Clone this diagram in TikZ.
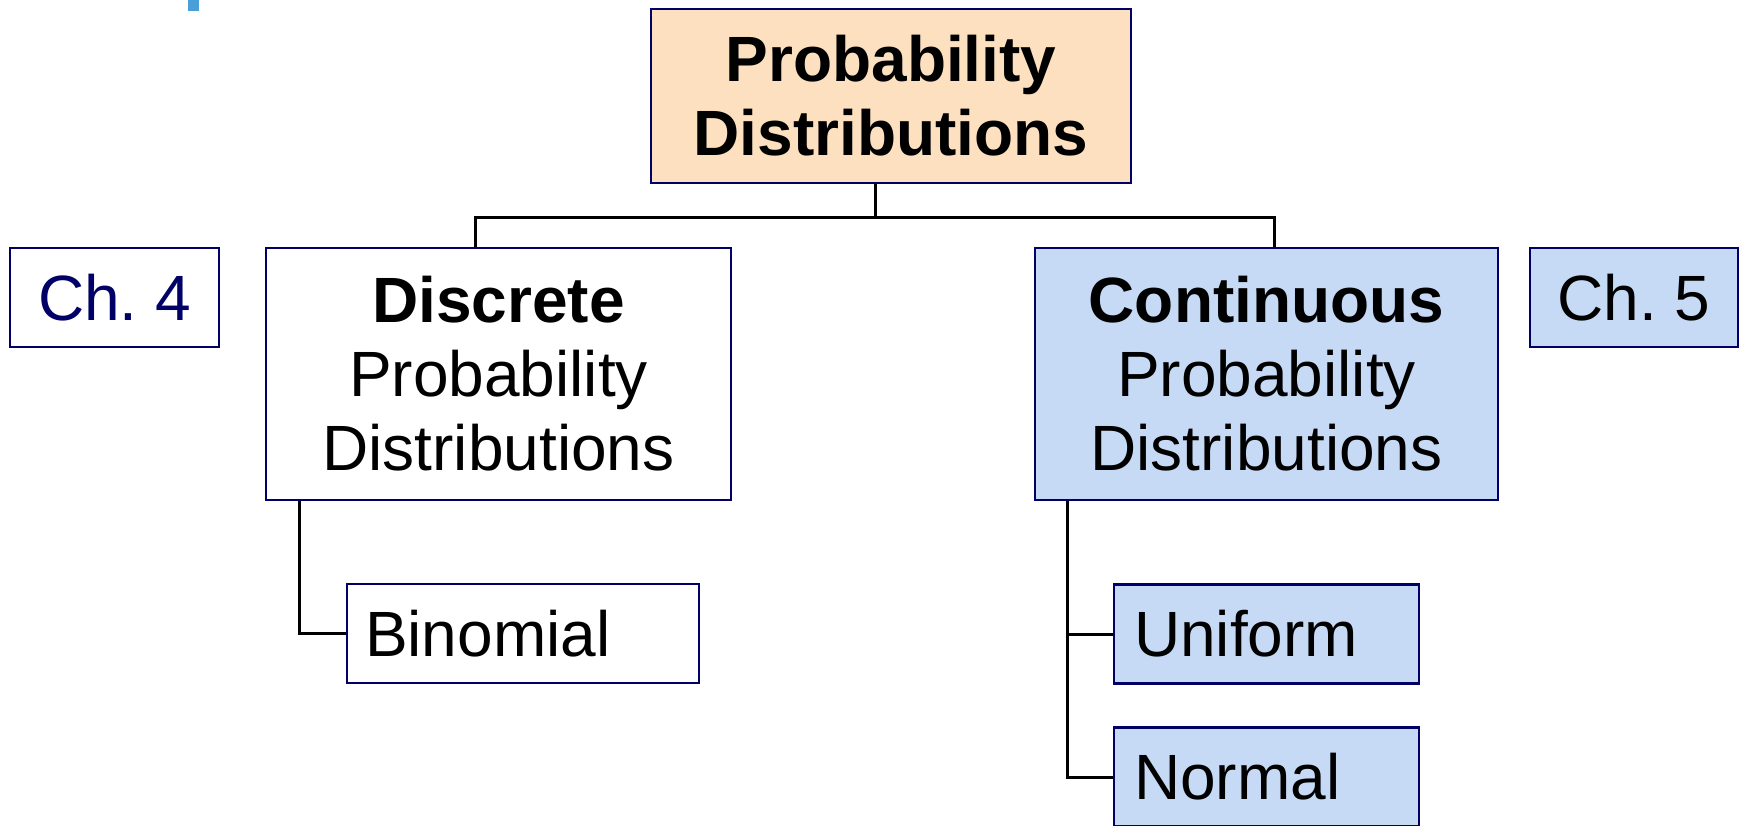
\documentclass[tikz,border=0pt]{standalone}
\usepackage{fontspec}
\setmainfont{Liberation Sans}
\usepackage{xcolor}
\usetikzlibrary{positioning}
\definecolor{boxline}{HTML}{000066}
\definecolor{peach}{HTML}{FCE0C0}
\definecolor{paleblue}{HTML}{C6DAF5}
\definecolor{marker}{HTML}{4A9FD8}

\begin{document}
\begin{tikzpicture}[x=0.5pt, y=-0.5pt,
    box/.style={draw=boxline, line width=1.25pt, inner sep=0pt, align=center,
        font=\fontsize{32}{37}\selectfont},
    leaf/.style={box, align=left, minimum height=49.5pt},
    link/.style={line width=1.5pt, black}]
    \useasboundingbox (0,0) rectangle (1739,825);
    \clip (0,0) rectangle (1739,825);

    % small mark at the top edge
    \fill[marker] (188,0) rectangle (199,11);

    \node[box, fill=peach, minimum width=240pt, minimum height=87pt] (top) at (891,96)
        {\textbf{Probability}\\\textbf{Distributions}};

    \node[box, minimum width=104.5pt, minimum height=49.5pt, text=boxline] (ch4) at (114.5,297.5) {Ch.\ 4};
    \node[box, minimum width=232.5pt, minimum height=126pt] (disc) at (498.5,374)
        {\textbf{Discrete}\\Probability\\Distributions};
    \node[box, fill=paleblue, minimum width=231.5pt, minimum height=126pt] (cont) at (1266.5,374)
        {\textbf{Continuous}\\Probability\\Distributions};
    \node[box, fill=paleblue, minimum width=104pt, minimum height=49.5pt] (ch5) at (1634,297.5) {Ch.\ 5};

    \node[leaf, inner xsep=9pt, text width=158pt] (binom) at (523,633.5) {Binomial};
    \node[leaf, fill=paleblue, inner xsep=10pt, text width=132.5pt] (unif) at (1266.5,634) {Uniform};
    \node[leaf, fill=paleblue, inner xsep=10pt, text width=132.5pt] (norm) at (1266.5,777) {Normal};

    \coordinate (hub) at (875,217);
    \coordinate (lbar) at (475,217);
    \coordinate (rbar) at (1274,217);
    \coordinate (ltrunk) at (299,500);
    \coordinate (rtrunk) at (1067,500);

    \draw[link] (top.south -| hub) -- (hub);
    \draw[link] (disc.north -| lbar) -- (lbar) -- (rbar) -- (cont.north -| rbar);
    \draw[link] (disc.south -| ltrunk) |- (binom.west);
    \draw[link] (cont.south -| rtrunk) |- (norm.west);
    \draw[link] (unif.west -| rtrunk) -- (unif.west);
\end{tikzpicture}
\end{document}
